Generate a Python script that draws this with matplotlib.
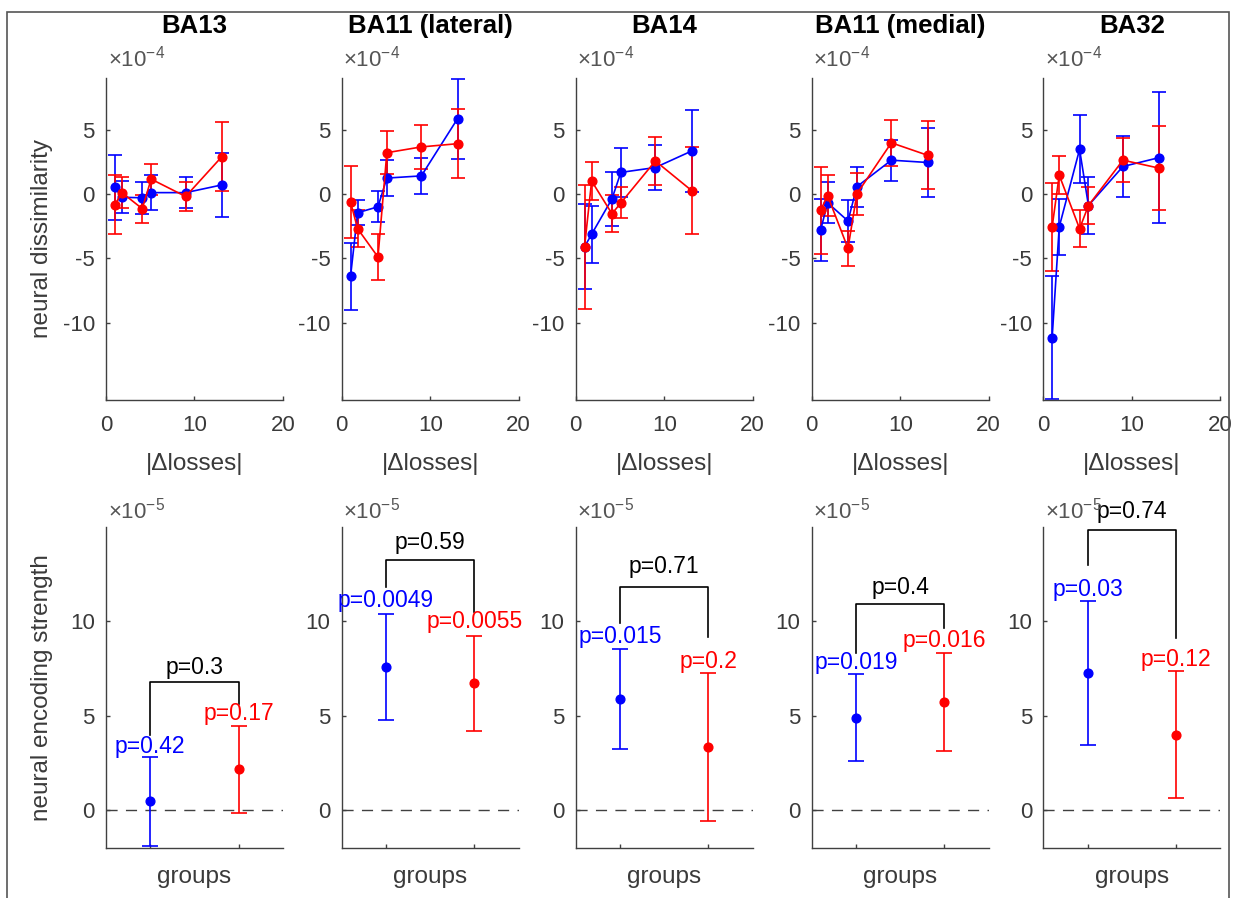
import matplotlib
matplotlib.use('Agg')
import matplotlib.pyplot as plt
from matplotlib.patches import Rectangle

plt.rcParams['font.family'] = ['Liberation Sans', 'DejaVu Sans']
plt.rcParams['mathtext.fontset'] = 'custom'
plt.rcParams['mathtext.rm'] = 'Liberation Sans'
plt.rcParams['axes.unicode_minus'] = False

# ---- data (top row in units of 1e-4, bottom row in units of 1e-5) ----
regions = ['BA13', 'BA11 (lateral)', 'BA14', 'BA11 (medial)', 'BA32']
dloss = [1, 1.8, 4.1, 5.1, 9, 13.1]

blue_top = [[0.5, -0.26, -0.3, 0.1, 0.1, 0.7],
            [-6.4, -1.46, -1.0, 1.23, 1.4, 5.85],
            [-4.1, -3.13, -0.38, 1.67, 2.05, 3.33],
            [-2.82, -0.69, -2.1, 0.56, 2.62, 2.44],
            [-11.15, -2.56, 3.46, -0.9, 2.13, 2.82]]
blue_top_err = [[2.5, 1.25, 1.25, 1.35, 1.2, 2.5],
                [2.6, 0.96, 1.2, 1.4, 1.4, 3.1],
                [3.3, 2.2, 2.1, 1.9, 1.73, 3.2],
                [2.4, 1.6, 1.64, 1.54, 1.6, 2.7],
                [4.75, 2.2, 2.63, 2.2, 2.4, 5.1]]
red_top = [[-0.85, 0.1, -1.15, 1.15, -0.2, 2.9],
           [-0.64, -2.7, -4.9, 3.2, 3.65, 3.9],
           [-4.1, 1.0, -1.54, -0.7, 2.56, 0.26],
           [-1.28, -0.13, -4.23, 0.0, 3.97, 3.0],
           [-2.56, 1.46, -2.7, -0.9, 2.62, 2.0]]
red_top_err = [[2.3, 1.2, 1.1, 1.2, 1.1, 2.7],
               [2.8, 1.45, 1.8, 1.67, 1.73, 2.7],
               [4.8, 1.5, 1.45, 1.2, 1.83, 3.37],
               [3.37, 1.6, 1.37, 1.64, 1.77, 2.65],
               [3.4, 1.45, 1.44, 1.4, 1.73, 3.26]]

blue_mean = [0.47, 7.6, 5.9, 4.9, 7.26]
blue_err = [2.34, 2.8, 2.64, 2.3, 3.8]
red_mean = [2.17, 6.72, 3.35, 5.73, 4.0]
red_err = [2.3, 2.53, 3.9, 2.58, 3.37]

p_blue = ['p=0.42', 'p=0.0049', 'p=0.015', 'p=0.019', 'p=0.03']
p_red = ['p=0.17', 'p=0.0055', 'p=0.2', 'p=0.016', 'p=0.12']
p_diff = ['p=0.3', 'p=0.59', 'p=0.71', 'p=0.4', 'p=0.74']
p_blue_y = [3.4, 11.1, 9.2, 7.8, 11.7]
p_red_y = [5.1, 9.98, 7.9, 8.98, 8.0]
p_diff_y = [7.55, 14.2, 12.9, 11.8, 15.8]
bracket_top = [6.77, 13.25, 11.84, 10.94, 14.85]
bracket_left = [4.0, 11.8, 9.9, 8.33, 13.0]
bracket_right = [5.64, 10.5, 9.2, 9.64, 9.1]

# ---- layout ----
W, H = 1236, 898
fig = plt.figure(figsize=(W / 100, H / 100), dpi=100)
lefts = [106, 341.7, 575.7, 811.7, 1043.3]
aw = 177
axcol = '#404040'
tickcol = '#3a3a3a'
BLUE = '#0000ff'
RED = '#ff0000'


def add_ax(left, top, h):
    return fig.add_axes([left / W, 1 - (top + h) / H, aw / W, h / H])


def style(ax):
    for s in ['top', 'right']:
        ax.spines[s].set_visible(False)
    for s in ['left', 'bottom']:
        ax.spines[s].set_color(axcol)
        ax.spines[s].set_linewidth(1.0)
    ax.tick_params(direction='in', length=3, width=1, colors=axcol,
                   labelcolor=tickcol, labelsize=16)
    ax.tick_params(axis='y', pad=8)
    ax.tick_params(axis='x', pad=11)


for i in range(5):
    # top row: dissimilarity vs |delta losses|
    ax = add_ax(lefts[i], 78, 322)
    style(ax)
    ax.errorbar(dloss, blue_top[i], yerr=blue_top_err[i], color=BLUE, marker='o',
                ms=6.3, lw=1.2, elinewidth=1.2, capsize=5, capthick=1.2)
    ax.errorbar(dloss, red_top[i], yerr=red_top_err[i], color=RED, marker='o',
                ms=6.3, lw=1.2, elinewidth=1.2, capsize=5, capthick=1.2)
    ax.set_xlim(0, 20)
    ax.set_ylim(-16, 9)
    ax.set_xticks([0, 10, 20])
    ax.set_yticks([-10, -5, 0, 5])
    ax.set_xlabel('|\u0394losses|', fontsize=17.5, color=tickcol, labelpad=12)
    ax.text(0.5, 1.14, regions[i], transform=ax.transAxes, ha='center',
            va='baseline', fontsize=18.5, fontweight='bold', color='black')
    ax.text(0.01, 1.02, r'$\times10^{-4}$', transform=ax.transAxes, ha='left',
            va='bottom', fontsize=16, color='#555555')
    if i == 0:
        ax.set_ylabel('neural dissimilarity', fontsize=17.5, color=tickcol)
        ax.yaxis.set_label_coords(-0.30, 0.5)

    # bottom row: encoding strength per group
    bx = add_ax(lefts[i], 527, 321)
    style(bx)
    bx.axhline(0, color='#404040', lw=1, dashes=(8, 6))
    bx.errorbar([1], [blue_mean[i]], yerr=[blue_err[i]], fmt='o', color=BLUE,
                ms=6.3, elinewidth=1.2, capsize=6, capthick=1.2)
    bx.errorbar([2], [red_mean[i]], yerr=[red_err[i]], fmt='o', color=RED,
                ms=6.3, elinewidth=1.2, capsize=6, capthick=1.2)
    bx.plot([1, 1, 2, 2], [bracket_left[i], bracket_top[i], bracket_top[i], bracket_right[i]],
            color='black', lw=1.2)
    bx.text(1.5, p_diff_y[i], p_diff[i], ha='center', va='center', fontsize=16.5,
            color='black', clip_on=False)
    bx.text(1, p_blue_y[i], p_blue[i], ha='center', va='center', fontsize=16.5,
            color=BLUE)
    bx.text(2, p_red_y[i], p_red[i], ha='center', va='center', fontsize=16.5,
            color=RED)
    bx.set_xlim(0.5, 2.5)
    bx.set_ylim(-2, 15)
    bx.set_xticks([1, 2])
    bx.set_xticklabels(['', ''])
    bx.set_yticks([0, 5, 10])
    bx.set_xlabel('groups', fontsize=17.5, color=tickcol, labelpad=2)
    bx.text(0.01, 1.01, r'$\times10^{-5}$', transform=bx.transAxes, ha='left',
            va='bottom', fontsize=16, color='#555555')
    if i == 0:
        bx.set_ylabel('neural encoding strength', fontsize=17.5, color=tickcol)
        bx.yaxis.set_label_coords(-0.30, 0.5)

# figure frame
fig.patches.append(Rectangle((7 / W, -0.01), (1229 - 7) / W, 1 - 12 / H + 0.01,
                             transform=fig.transFigure, fill=False,
                             edgecolor='#555555', lw=1.2))

fig.savefig('out.png', dpi=100)
